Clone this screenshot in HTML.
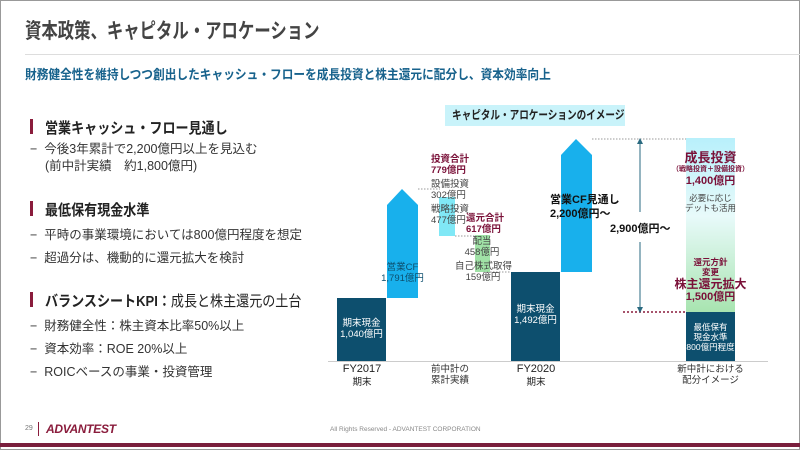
<!DOCTYPE html>
<html><head><meta charset="utf-8"><style>
*{margin:0;padding:0;box-sizing:border-box}
body{width:800px;height:450px;overflow:hidden;background:#fff;font-family:"Liberation Sans","Noto Sans CJK JP",sans-serif;position:relative;color:#333}
.a{position:absolute;white-space:nowrap}
.c{text-align:center;line-height:1.2}
.h{font-weight:bold;font-size:15px;color:#222;transform:scaleX(0.87);transform-origin:0 0}
.b{font-size:12.5px;color:#333}
.m{position:absolute;width:3px;height:15px;background:#8a1c3c}
.s{font-size:9.5px}
.w{color:#fff}
.p{color:#7a1038;font-weight:bold}
</style></head><body>
<div class="a" style="left:0;top:0;width:800px;height:450px;border:1px solid #999"></div>
<div class="a" style="left:25px;top:15px;font-size:21px;color:#444;font-weight:bold;transform:scaleX(0.78);transform-origin:0 0">資本政策、キャピタル・アロケーション</div>
<div class="a" style="left:25px;top:54px;width:775px;height:1px;background:#ddd"></div>
<div class="a" style="left:25px;top:64px;font-size:13px;font-weight:bold;color:#17628c;transform:scaleX(0.9);transform-origin:0 0">財務健全性を維持しつつ創出したキャッシュ・フローを成長投資と株主還元に配分し、資本効率向上</div>

<div class="m" style="left:30px;top:119px"></div>
<div class="a h" style="left:45px;top:117px">営業キャッシュ・フロー見通し</div>
<div class="a b" style="left:30px;top:138px">−&nbsp; 今後3年累計で2,200億円以上を見込む</div>
<div class="a b" style="left:45px;top:155px">(前中計実績　約1,800億円)</div>

<div class="m" style="left:30px;top:201px"></div>
<div class="a h" style="left:45px;top:199px">最低保有現金水準</div>
<div class="a b" style="left:30px;top:224px">−&nbsp; 平時の事業環境においては800億円程度を想定</div>
<div class="a b" style="left:30px;top:247px">−&nbsp; 超過分は、機動的に還元拡大を検討</div>

<div class="m" style="left:30px;top:292px"></div>
<div class="a h" style="left:45px;top:290px">バランスシートKPI：<span style="font-weight:normal">成長と株主還元の土台</span></div>
<div class="a b" style="left:30px;top:315px">−&nbsp; 財務健全性：株主資本比率50%以上</div>
<div class="a b" style="left:30px;top:338px">−&nbsp; 資本効率：ROE 20%以上</div>
<div class="a b" style="left:30px;top:361px">−&nbsp; ROICベースの事業・投資管理</div>

<div class="a" style="left:25px;top:425px;font-size:7px;color:#777">29</div>
<div class="a" style="left:38px;top:422px;width:1px;height:14px;background:#8a1c3c"></div>
<div class="a" style="left:46px;top:422px;font-size:12px;font-weight:bold;font-style:italic;color:#8a1c3c;letter-spacing:-0.3px">ADVANTEST</div>
<div class="a" style="left:330px;top:426px;font-size:6.5px;color:#888">All Rights Reserved - ADVANTEST CORPORATION</div>
<div class="a" style="left:0;top:443px;width:800px;height:4px;background:#7a1f3d"></div>

<!-- chart -->
<div class="a" style="left:445px;top:105px;width:180px;height:21px;background:#c9f3fa"></div>
<div class="a" style="left:452px;top:105px;font-size:12px;font-weight:bold;color:#222;line-height:21px;transform:scaleX(0.8);transform-origin:0 0">キャピタル・アロケーションのイメージ</div>
<div class="a" style="left:328px;top:361px;width:440px;height:1px;background:#ccc"></div>
<svg class="a" style="left:0;top:0" width="800" height="450">
<polygon points="387,298 387,205 402,189 418,205 418,298" fill="#18b0ec"/>
<polygon points="561,272 561,155 576,139 592,155 592,272" fill="#18b0ec"/>
<defs><linearGradient id="g" x1="0" y1="0" x2="0" y2="1"><stop offset="0" stop-color="#b8f0fb"/><stop offset="0.45" stop-color="#e8fafa"/><stop offset="1" stop-color="#a8e4b0"/></linearGradient></defs>
<rect x="686" y="138" width="49" height="174" fill="url(#g)"/>
<g stroke="#999" stroke-dasharray="1.5,1.5" stroke-width="1">
<line x1="418" y1="189" x2="440" y2="189"/><line x1="455" y1="236" x2="475" y2="236"/>
<line x1="490" y1="272" x2="511" y2="272"/><line x1="592" y1="139" x2="686" y2="139"/></g>
<line x1="623" y1="312" x2="686" y2="312" stroke="#8a1c3c" stroke-width="1.5" stroke-dasharray="2,2"/>
<line x1="640" y1="141" x2="640" y2="212" stroke="#2a6a80"/><line x1="640" y1="242" x2="640" y2="310" stroke="#2a6a80"/>
<polygon points="637,144 640,138 643,144" fill="#2a6a80"/><polygon points="637,307 640,313 643,307" fill="#2a6a80"/>
</svg>
<div class="a" style="left:337px;top:298px;width:49px;height:63px;background:#0d4f6e"></div>
<div class="a" style="left:511px;top:272px;width:49px;height:89px;background:#0d4f6e"></div>
<div class="a" style="left:686px;top:312px;width:49px;height:49px;background:#0d4f6e"></div>
<div class="a" style="left:439px;top:197px;width:16px;height:39px;background:#80e8f6"></div>
<div class="a" style="left:475px;top:235px;width:15px;height:37px;background:#a0e2a6"></div>

<div class="a c s w" style="left:337px;top:318px;width:49px">期末現金<br>1,040億円</div>
<div class="a c s" style="left:380px;top:262px;width:45px;color:#0d4f6e">営業CF<br>1,791億円</div>
<div class="a s p" style="left:431px;top:155px;line-height:1.15">投資合計<br>779億円</div>
<div class="a s" style="left:431px;top:180px;line-height:1.15;color:#444">設備投資<br>302億円</div>
<div class="a s" style="left:431px;top:205px;line-height:1.15;color:#444">戦略投資<br>477億円</div>
<div class="a s p" style="left:466px;top:214px;line-height:1.15">還元合計<br>617億円</div>
<div class="a c s" style="left:462px;top:237px;width:40px;line-height:1.15;color:#444">配当<br>458億円</div>
<div class="a c s" style="left:455px;top:262px;width:56px;line-height:1.15;color:#444">自己株式取得<br>159億円</div>
<div class="a c s w" style="left:511px;top:304px;width:49px">期末現金<br>1,492億円</div>
<div class="a" style="left:550px;top:193px;font-size:11px;font-weight:bold;color:#111;line-height:1.3">営業CF見通し<br>2,200億円〜</div>
<div class="a" style="left:610px;top:220px;font-size:11px;font-weight:bold;color:#111;background:#fff">2,900億円〜</div>
<div class="a c p" style="left:670px;top:150px;width:81px;font-size:13px">成長投資</div>
<div class="a c p" style="left:670px;top:166px;width:81px;font-size:7px">（戦略投資＋設備投資）</div>
<div class="a c p" style="left:670px;top:175px;width:81px;font-size:11px">1,400億円</div>
<div class="a c" style="left:670px;top:193px;width:81px;font-size:8.5px;color:#444">必要に応じ<br>デットも活用</div>
<div class="a c p" style="left:670px;top:257px;width:81px;font-size:8.5px">還元方針<br>変更</div>
<div class="a c p" style="left:665px;top:277px;width:91px;font-size:12px">株主還元拡大</div>
<div class="a c p" style="left:670px;top:291px;width:81px;font-size:11px">1,500億円</div>
<div class="a c w" style="left:680px;top:322px;width:61px;font-size:8.5px">最低保有<br>現金水準<br>800億円程度</div>

<div class="a c" style="left:332px;top:363px;width:60px;font-size:11px;color:#222">FY2017<br><span style="font-size:9.5px">期末</span></div>
<div class="a c" style="left:425px;top:364px;width:50px;font-size:9.5px;color:#333">前中計の<br>累計実績</div>
<div class="a c" style="left:506px;top:363px;width:60px;font-size:11px;color:#222">FY2020<br><span style="font-size:9.5px">期末</span></div>
<div class="a c" style="left:670px;top:364px;width:81px;font-size:9.5px;color:#333">新中計における<br>配分イメージ</div>
</body></html>
